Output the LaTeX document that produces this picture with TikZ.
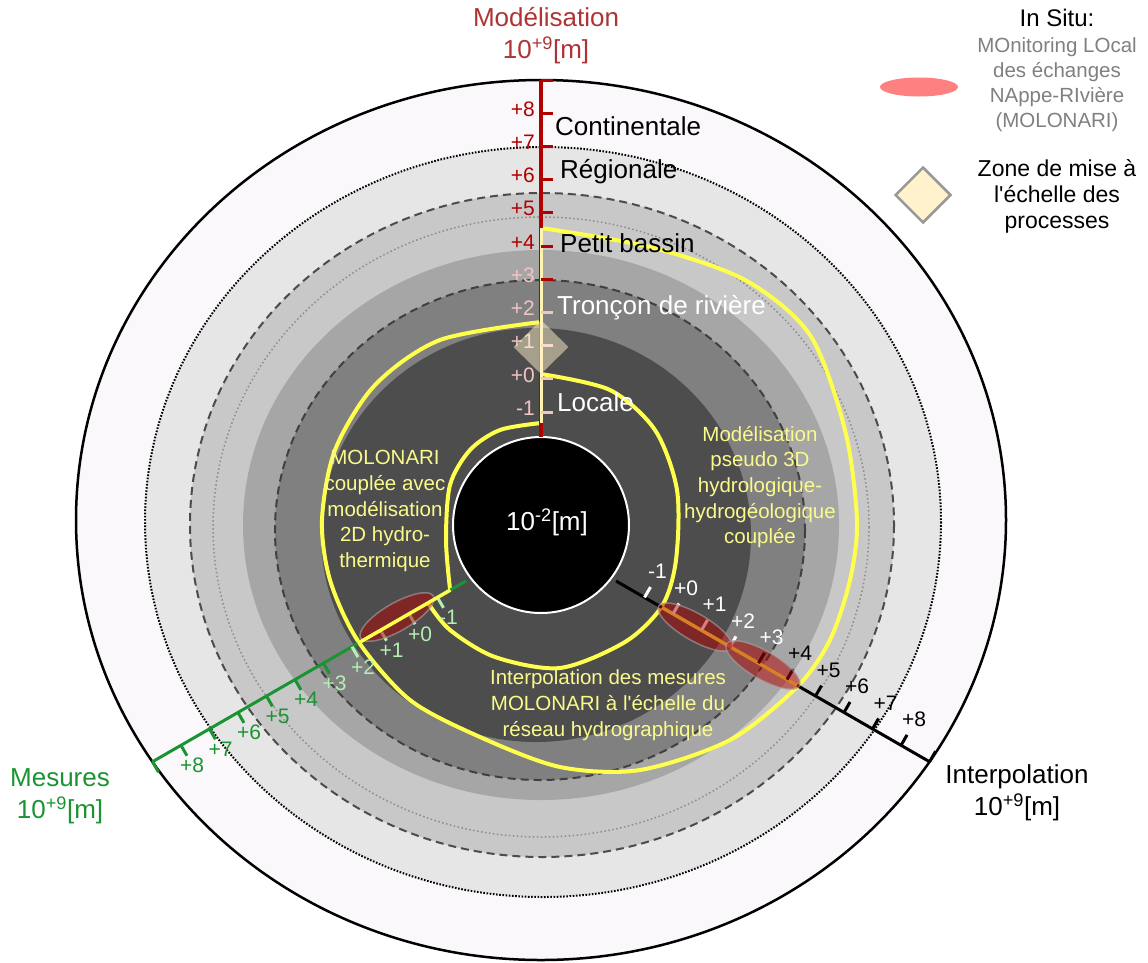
\documentclass[tikz,border=0pt]{standalone}
\usepackage{fontspec}
\setmainfont{Liberation Sans}
\usepackage{xcolor}
\usepackage{tikz}
\usetikzlibrary{calc,positioning,shapes.geometric}

\definecolor{modred}{HTML}{B00000}
\definecolor{modtitle}{HTML}{AE3434}
\definecolor{pinktick}{HTML}{F2C4C4}
\definecolor{mesgreen}{HTML}{1A9432}
\definecolor{lightgreen}{HTML}{B4F0B4}
\definecolor{spiral}{HTML}{FFFF4D}
\definecolor{paleaxis}{HTML}{FFF4B0}
\definecolor{spiraltext}{HTML}{FAFA8C}
\definecolor{zonefill}{HTML}{FFF2CC}
\definecolor{ringout}{HTML}{FAF8FA}
\definecolor{ringdot}{HTML}{E6E6E6}
\definecolor{ringmid}{HTML}{C8C8C8}
\definecolor{ringgrey}{HTML}{A6A6A6}
\definecolor{ringdark}{HTML}{808080}
\definecolor{ringcore}{HTML}{4D4D4D}

\begin{document}
\begin{tikzpicture}[x=1pt,y=-1pt,
    bigtxt/.style={font=\fontsize{26}{32}\selectfont,align=center},
    scaletxt/.style={font=\fontsize{26}{30}\selectfont,anchor=west,inner sep=0pt},
    ticktxt/.style={font=\fontsize{21}{23}\selectfont,inner sep=0pt},
    spiraltxt/.style={font=\fontsize{20.5}{25.7}\selectfont,text=spiraltext,align=center},
    keytxt/.style={font=\fontsize{20.5}{25}\selectfont,align=center},
    tickmark/.style={line width=3pt},
    spiralline/.style={draw=spiral,line width=4pt},
    marker/.style={ellipse,fill=red!70!black,fill opacity=0.5,draw=gray!70,draw opacity=0.6,line width=1.5pt,inner sep=0pt}]
  \fill[white] (0,0) rectangle (1148,962);
  \useasboundingbox (0,0) rectangle (1148,962);

  % rings
  \filldraw[fill=ringout,draw=black,line width=2.5pt] (541,520) ellipse [x radius=465,y radius=440];
  \filldraw[fill=ringdot,draw=black,line width=2pt,dash pattern=on 1.6pt off 1.6pt] (543,522) ellipse [x radius=398,y radius=375];
  \filldraw[fill=ringmid,draw=black!70,line width=2pt,dash pattern=on 8pt off 5pt] (542,525) ellipse [x radius=352,y radius=332];
  \draw[draw=black!45,line width=1.5pt,dash pattern=on 1.5pt off 2.5pt] (541,527) ellipse [x radius=328,y radius=310];
  \fill[ringgrey] (541,525) ellipse [x radius=298,y radius=275];
  \filldraw[fill=ringdark,draw=black!75,line width=2pt,dash pattern=on 8pt off 5pt] (540,530) ellipse [x radius=265,y radius=250];
  \fill[ringcore] (536,535) ellipse [x radius=215,y radius=207];
  \filldraw[fill=black,draw=white,line width=2pt] (541,525) circle (88);

  % spiral
  \draw[spiralline] plot[smooth] coordinates {(541,228) (650,247) (745,280) (810,335) (845,430) (857,520) (850,580) (830,640) (797,687) (730,740) (640,770) (560,767) (480,737) (410,700) (358,641) (330,580) (322,520) (335,450) (375,385) (440,340) (541,322)};
  \draw[spiralline] plot[smooth] coordinates {(541,374) (610,390) (655,430) (677,490) (676,560) (662,606) (625,642) (560,668) (495,657) (450,630) (428,603)};
  \draw[spiralline] plot[smooth] coordinates {(450,589) (446,540) (450,485) (470,450) (500,430) (541,423)};

  % Modelisation axis
  \coordinate (modtop) at (541,80);
  \coordinate (modbot) at (541,437);
  \coordinate (spiraltop) at (541,228);
  \coordinate (spiralbot) at (541,423);
  \draw[draw=modred,line width=3.5pt] (modtop) -- (modbot);
  \draw[draw=paleaxis,line width=3pt] (spiraltop) -- (spiralbot);
  \foreach \k/\tc in {0/modred,1/modred,2/modred,3/modred,4/modred,5/modred,6/modred,7/pinktick,8/pinktick,9/pinktick,10/pinktick}
    \draw[tickmark,draw=\tc] ($(modtop)+(0,\k*33.2)$) -- ++(12,0);
  \foreach \k/\lab/\lc in {1/+8/modred,2/+7/modred,3/+6/modred,4/+5/modred,5/+4/modred,6/+3/pinktick,7/+2/pinktick,8/+1/pinktick,9/+0/pinktick,10/-1/pinktick}
    \node[ticktxt,text=\lc,anchor=east] (mlab\k) at ($(modtop)+(-6,\k*33.2-4)$) {\lab};

  % Interpolation axis
  \coordinate (interpin) at (616,581);
  \coordinate (interpout) at (930,762);
  \draw[line width=3pt] (interpin) -- (interpout);
  \draw[draw=spiral,line width=3.5pt] ($(interpin)!53pt!(interpout)$) -- ($(interpin)!209pt!(interpout)$);
  \foreach \k/\tc [evaluate=\k as \tdist using \k*32.9] in {1/white,2/white,3/white,4/white,5/black,6/black,7/black,8/black,9/black,10/black,11/black}
    \draw[tickmark,draw=\tc] ($(interpin)!\tdist pt!(interpout)$) -- ++(6,-10.4);
  \node[marker,rotate=-30,minimum width=84pt,minimum height=27pt] (molA) at (695,627) {};
  \node[marker,rotate=-30,minimum width=84pt,minimum height=28pt] (molB) at (763,665) {};
  \foreach \k/\lab/\lc [evaluate=\k as \tdist using \k*32.9] in {1/-1/white,2/+0/white,3/+1/white,4/+2/white,5/+3/white,6/+4/black,7/+5/black,8/+6/black,9/+7/black,10/+8/black}
    \node[ticktxt,text=\lc] (ilab\k) at ($(interpin)!\tdist pt!(interpout)+(13,-26)$) {\lab};

  % Mesures axis
  \coordinate (mesin) at (466,581);
  \coordinate (mesout) at (152,762);
  \draw[draw=mesgreen,line width=3pt] (mesin) -- (mesout);
  \foreach \k/\tc [evaluate=\k as \tdist using \k*32.9] in {1/lightgreen,2/lightgreen,3/lightgreen,4/lightgreen,5/mesgreen,6/mesgreen,7/mesgreen,8/mesgreen,9/mesgreen,10/mesgreen,11/mesgreen}
    \draw[tickmark,draw=\tc] ($(mesin)!\tdist pt!(mesout)$) -- ++(6,10.4);
  \node[marker,rotate=30,minimum width=84pt,minimum height=28pt] (molC) at (397,617) {};
  \draw[draw=spiral,line width=3.5pt] ($(mesin)!18pt!(mesout)$) -- ($(mesin)!125pt!(mesout)$);
  \foreach \k/\lab/\lc [evaluate=\k as \tdist using \k*32.9] in {1/-1/lightgreen,2/+0/lightgreen,3/+1/lightgreen,4/+2/lightgreen,5/+3/lightgreen,6/+4/mesgreen,7/+5/mesgreen,8/+6/mesgreen,9/+7/mesgreen,10/+8/mesgreen}
    \node[ticktxt,text=\lc] (glab\k) at ($(mesin)!\tdist pt!(mesout)+(11,20)$) {\lab};

  % zone de mise a l'echelle
  \node[diamond,fill=zonefill,fill opacity=0.5,minimum width=55pt,minimum height=54pt,inner sep=0pt] (zone) at (541,347) {};

  % scale names
  \node[scaletxt] (continent) at (555,126) {Continentale};
  \node[scaletxt] (region) at (560,172) {Régionale};
  \node[scaletxt] (bassin) at (560,243) {Petit bassin};
  \node[scaletxt,text=white] (troncon) at (557,308) {Tronçon de rivière};
  \node[scaletxt,text=white] (locale) at (557,402) {Locale};

  % spiral texts
  \node[spiraltxt] (molonari) at (385,511) {MOLONARI\\couplée avec\\modélisation\\2D hydro-\\thermique};
  \node[spiraltxt] (pseudo) at (760,487) {Modélisation\\pseudo 3D\\hydrologique-\\hydrogéologique\\couplée};
  \node[spiraltxt] (interptxt) at (608,705) {Interpolation des mesures\\MOLONARI à l\textquotesingle échelle du\\réseau hydrographique};

  % axis titles
  \node[bigtxt,text=white] (core) at (547,522) {10\textsuperscript{-2}[m]};
  \node[bigtxt,text=modtitle] (modname) at (546,36) {Modélisation\\10\textsuperscript{+9}[m]};
  \node[bigtxt,text=mesgreen] (mesname) at (60,796) {Mesures\\10\textsuperscript{+9}[m]};
  \node[bigtxt] (interpname) at (1017,793) {Interpolation\\10\textsuperscript{+9}[m]};

  % legend
  \node[font=\fontsize{24}{28}\selectfont] (insitu) at (1057,18) {In Situ:};
  \node[keytxt,text=black!50] (insitudef) at (1057,85) {MOnitoring LOcal\\des échanges\\NAppe-RIvière\\(MOLONARI)};
  \node[ellipse,fill=red!50,minimum width=78pt,minimum height=19pt,inner sep=0pt] (insitukey) at (919,87) {};
  \node[diamond,fill=zonefill,draw=black!40,line width=2.5pt,minimum width=56pt,minimum height=56pt,inner sep=0pt] (zonekey) at (923,195) {};
  \node[keytxt,font=\fontsize{23}{26}\selectfont] (zonetxt) at (1057,196) {Zone de mise à\\l\textquotesingle échelle des\\processes};
\end{tikzpicture}
\end{document}
